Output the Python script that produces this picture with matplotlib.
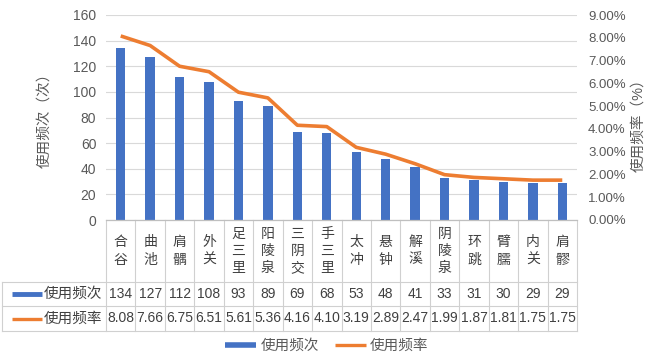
import matplotlib
matplotlib.use("Agg")
import matplotlib.pyplot as plt
from matplotlib.lines import Line2D
from matplotlib.ticker import FuncFormatter, MultipleLocator

plt.rcParams['font.family'] = ['Liberation Sans', 'Noto Sans CJK SC']
plt.rcParams['font.size'] = 10

# acupoints, usage counts and usage rates (%)
points = ['合谷', '曲池', '肩髃', '外关', '足三里', '阳陵泉', '三阴交', '手三里',
          '太冲', '悬钟', '解溪', '阴陵泉', '环跳', '臂臑', '内关', '肩髎']
counts = [134, 127, 112, 108, 93, 89, 69, 68, 53, 48, 41, 33, 31, 30, 29, 29]
rates = [8.08, 7.66, 6.75, 6.51, 5.61, 5.36, 4.16, 4.10, 3.19, 2.89, 2.47,
         1.99, 1.87, 1.81, 1.75, 1.75]

BLUE = '#4472C4'
ORANGE = '#ED7D31'
GRID = '#D9D9D9'
TXT = '#595959'
W, H = 647, 358


def fx(px):
    return px / W


def fy(py):
    return 1 - py / H


fig = plt.figure(figsize=(W / 100, H / 100), dpi=100)

# main plot area
ax = fig.add_axes([fx(106), fy(220), fx(577) - fx(106), fy(15) - fy(220)])
x = list(range(len(points)))
ax.bar(x, counts, width=0.32, color=BLUE, zorder=2)
ax.set_xlim(-0.5, len(points) - 0.5)
ax.set_ylim(0, 160)
ax.yaxis.set_major_locator(MultipleLocator(20))
ax.grid(axis='y', color=GRID, lw=0.8, zorder=0)
ax.set_xticks([])
for s in ax.spines.values():
    s.set_visible(False)
ax.tick_params(axis='y', length=0, pad=7, colors=TXT, labelsize=10)

ax2 = ax.twinx()
ax2.plot(x, [r / 100 for r in rates], color=ORANGE, lw=2.6, zorder=3,
         solid_capstyle='butt')
ax2.set_ylim(0, 0.09)
ax2.yaxis.set_major_locator(MultipleLocator(0.01))
ax2.yaxis.set_major_formatter(FuncFormatter(lambda v, p: f'{v * 100:.2f}%'))
for s in ax2.spines.values():
    s.set_visible(False)
ax2.tick_params(axis='y', length=0, pad=8, colors=TXT, labelsize=9.5)

fig.text(fx(44), fy(117), '使用频次（次）', rotation=90, ha='center', va='center',
         color=TXT, fontsize=10.5)
fig.text(fx(638), fy(122), '使用频率（%）', rotation=90, ha='center', va='center',
         color=TXT, fontsize=10.5)

# data table below the plot
tax = fig.add_axes([fx(2), fy(331), fx(577) - fx(2), fy(220) - fy(331)])
n = len(points)
left = -0.5 - (106 - 2) / ((577 - 106) / n)
tax.set_xlim(left, n - 0.5)
tax.set_ylim(0, 111)
tax.axis('off')

lc = '#D0D0D0'
for i in range(n + 1):
    tax.plot([i - 0.5, i - 0.5], [0, 111], color=lc, lw=0.8, clip_on=False)
tax.plot([left, left], [0, 49], color=lc, lw=0.8, clip_on=False)
for yy in (0, 25, 49):
    tax.plot([left, n - 0.5], [yy, yy], color=lc, lw=0.8, clip_on=False)
tax.plot([-0.5, n - 0.5], [111, 111], color='#BFBFBF', lw=0.9, clip_on=False)

TT = '#404040'
for i, name in enumerate(points):
    tax.text(i, 80, '\n'.join(name), ha='center', va='center', color=TT,
             fontsize=10, linespacing=1.3)
    tax.text(i, 37, str(counts[i]), ha='center', va='center', color=TT, fontsize=10)
    tax.text(i, 12.5, f'{rates[i]:.2f}', ha='center', va='center', color=TT,
             fontsize=10)

# row headers with series keys
k0 = left + 10 / 29.44
k1 = left + 40 / 29.44
tax.plot([k0, k1], [37, 37], color=BLUE, lw=3.5, solid_capstyle='butt', clip_on=False)
tax.plot([k0, k1], [12.5, 12.5], color=ORANGE, lw=2.4, solid_capstyle='butt',
         clip_on=False)
tax.text(-0.62, 37, '使用频次', ha='right', va='center', color=TT, fontsize=10.5)
tax.text(-0.62, 12.5, '使用频率', ha='right', va='center', color=TT, fontsize=10.5)

# legend
handles = [Line2D([], [], color=BLUE, lw=4, solid_capstyle='butt'),
           Line2D([], [], color=ORANGE, lw=2.4, solid_capstyle='butt')]
leg = fig.legend(handles, ['使用频次', '使用频率'], loc='center',
                 bbox_to_anchor=(fx(327), fy(346)), ncol=2, frameon=False,
                 handlelength=2.1, handletextpad=0.3, columnspacing=1.1,
                 fontsize=10.5, borderpad=0, borderaxespad=0)
for t in leg.get_texts():
    t.set_color(TXT)

fig.savefig('out.png', dpi=100, facecolor='white')
